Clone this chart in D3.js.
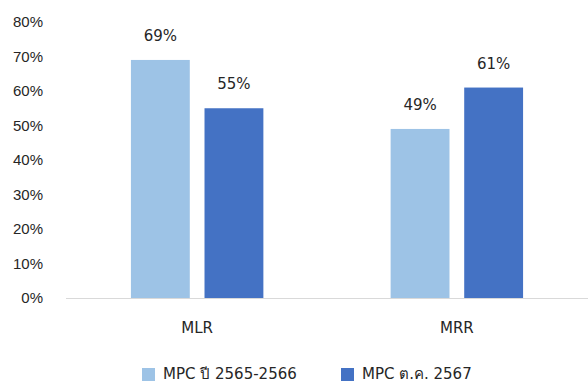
<!DOCTYPE html>
<html>
<head>
<meta charset="utf-8">
<script src="https://cdn.jsdelivr.net/npm/d3@7"></script>
<style>
  body { margin: 0; background: #fff; }
  svg { display: block; font-family: Tahoma, "DejaVu Sans", "Noto Sans", sans-serif; }
</style>
</head>
<body>
<svg width="588" height="383"></svg>
<script>
var categories = ["MLR", "MRR"];
var seriesNames = ["MPC ปี 2565-2566", "MPC ต.ค. 2567"];
var prevValues = [69, 49];
var currValues = [55, 61];
var yTicks = [0, 10, 20, 30, 40, 50, 60, 70, 80];

var colors = ["#9dc3e6", "#4472c4"];

var svg = d3.select("svg"),
    margin = {top: 22, right: 0, bottom: 85, left: 66},
    width = +svg.attr("width") - margin.left - margin.right,
    height = +svg.attr("height") - margin.top - margin.bottom;

var data = categories.map(function(c, i) {
  return {cat: c, values: [prevValues[i], currValues[i]]};
});

var x0 = d3.scaleBand()
    .domain(categories)
    .range([margin.left, margin.left + width])
    .paddingInner(0.49)
    .paddingOuter(0.25);

var x1 = d3.scaleBand()
    .domain([0, 1])
    .range([0, x0.bandwidth()])
    .paddingInner(0.2);

var y = d3.scaleLinear()
    .domain([0, 80])
    .range([margin.top + height, margin.top]);

// y axis labels, no line
var yAxis = svg.append("g")
    .attr("transform", "translate(" + margin.left + ",0)")
    .call(d3.axisLeft(y).tickValues(yTicks).tickSize(0).tickPadding(23)
      .tickFormat(function(d) { return d + "%"; }));
yAxis.select(".domain").remove();
yAxis.selectAll("text")
    .style("font-family", null)
    .attr("font-size", 15)
    .attr("fill", "#262626");

// baseline
svg.append("line")
    .attr("x1", margin.left)
    .attr("x2", margin.left + width)
    .attr("y1", y(0) + 0.5)
    .attr("y2", y(0) + 0.5)
    .attr("stroke", "#d9d9d9")
    .attr("stroke-width", 1);

var groups = svg.selectAll(".grp")
  .data(data)
  .enter().append("g")
    .attr("class", "grp")
    .attr("transform", function(d) { return "translate(" + x0(d.cat) + ",0)"; });

groups.selectAll("rect")
  .data(function(d) { return d.values; })
  .enter().append("rect")
    .attr("x", function(d, i) { return x1(i); })
    .attr("y", function(d) { return y(d); })
    .attr("width", x1.bandwidth())
    .attr("height", function(d) { return y(0) - y(d); })
    .attr("fill", function(d, i) { return colors[i]; });

groups.selectAll("text.val")
  .data(function(d) { return d.values; })
  .enter().append("text")
    .attr("class", "val")
    .attr("x", function(d, i) { return x1(i) + x1.bandwidth() / 2; })
    .attr("y", function(d) { return y(d) - 19; })
    .attr("text-anchor", "middle")
    .attr("font-size", 15)
    .attr("fill", "#262626")
    .text(function(d) { return d + "%"; });

// category labels
svg.selectAll(".cat")
  .data(categories)
  .enter().append("text")
    .attr("class", "cat")
    .attr("x", function(d) { return x0(d) + x0.bandwidth() / 2; })
    .attr("y", y(0) + 35)
    .attr("text-anchor", "middle")
    .attr("font-size", 15)
    .attr("fill", "#262626")
    .text(function(d) { return d; });

// legend
var legendX = [142, 341];
var legend = svg.selectAll(".legend")
  .data(seriesNames)
  .enter().append("g")
    .attr("class", "legend")
    .attr("transform", function(d, i) { return "translate(" + legendX[i] + ",368)"; });

legend.append("rect")
    .attr("width", 13)
    .attr("height", 13)
    .attr("fill", function(d, i) { return colors[i]; });

legend.append("text")
    .attr("x", 21)
    .attr("y", 11)
    .attr("font-size", 15)
    .attr("fill", "#262626")
    .text(function(d) { return d; });
</script>
</body>
</html>
